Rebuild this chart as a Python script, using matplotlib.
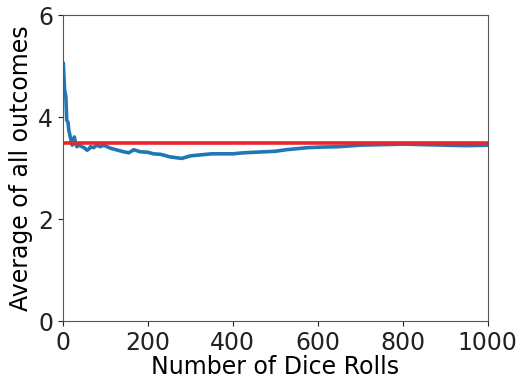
import numpy as np
import matplotlib
matplotlib.use('Agg')
import matplotlib.pyplot as plt

# running average
rolls = [1, 4, 7, 9, 12, 14, 18, 22, 25, 27, 30, 33, 38, 45, 50, 57, 62, 65, 72,
         80, 88, 96, 104, 112, 125, 143, 155, 167, 182, 200, 213, 230, 252, 270,
         280, 300, 325, 350, 375, 400, 425, 450, 475, 500, 525, 550, 575, 600,
         650, 700, 750, 800, 850, 900, 950, 1000]
average = [5.05, 4.53, 4.40, 3.94, 3.90, 3.74, 3.59, 3.45, 3.50, 3.61, 3.48, 3.42,
           3.45, 3.42, 3.40, 3.35, 3.38, 3.42, 3.40, 3.45, 3.42, 3.45, 3.42, 3.39,
           3.36, 3.32, 3.30, 3.36, 3.32, 3.31, 3.28, 3.27, 3.22, 3.20, 3.19, 3.24,
           3.26, 3.28, 3.28, 3.28, 3.30, 3.31, 3.32, 3.33, 3.36, 3.38, 3.40, 3.41,
           3.42, 3.45, 3.46, 3.47, 3.46, 3.45, 3.44, 3.45]
expected = 3.5

plt.rcParams['font.size'] = 17
fig = plt.figure(figsize=(5.24, 3.79), dpi=100)
ax = fig.add_axes([0.12, 0.153, 0.811, 0.807])

ax.plot(rolls, average, color='#1f77b4', linewidth=2.6)
ax.axhline(expected, color='#e8262b', linewidth=2.6)

ax.set_xlim(0, 1000)
ax.set_ylim(0, 6)
ax.set_xticks([0, 200, 400, 600, 800, 1000])
ax.set_yticks([0, 2, 4, 6])
ax.set_xlabel('Number of Dice Rolls', labelpad=0)
ax.set_ylabel('Average of all outcomes', labelpad=4)
ax.tick_params(colors='#222222')
for s in ax.spines.values():
    s.set_color('#555555')

fig.savefig('out.png', dpi=100)
